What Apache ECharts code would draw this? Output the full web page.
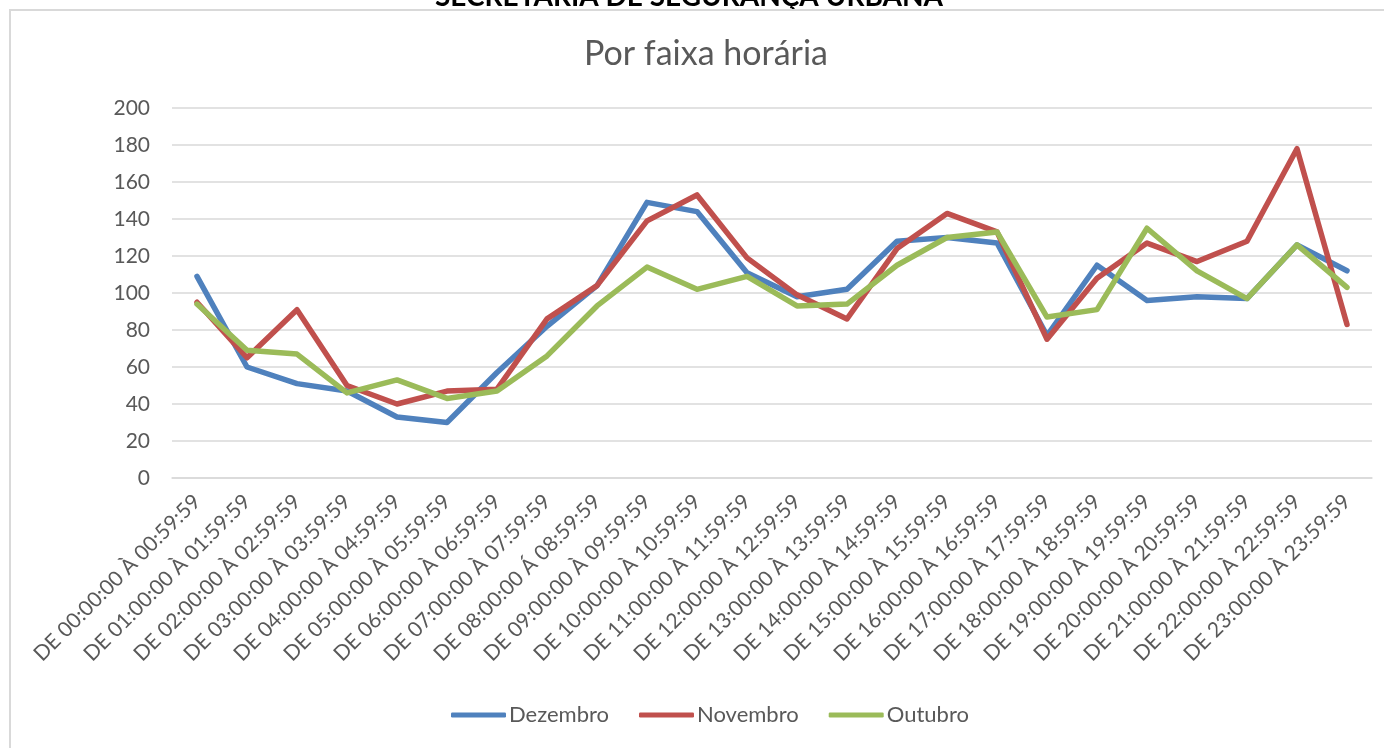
<!DOCTYPE html>
<html>
<head>
<meta charset="utf-8">
<script src="https://cdn.jsdelivr.net/npm/echarts@6/dist/echarts.min.js"></script>
<style>
html,body{margin:0;padding:0;background:#fff;}
#c{width:1384px;height:748px;}
</style>
</head>
<body>
<div id="c"></div>
<script>
const categories = [
  "DE 00:00:00 À 00:59:59","DE 01:00:00 À 01:59:59","DE 02:00:00 À 02:59:59","DE 03:00:00 À 03:59:59",
  "DE 04:00:00 À 04:59:59","DE 05:00:00 À 05:59:59","DE 06:00:00 À 06:59:59","DE 07:00:00 À 07:59:59",
  "DE 08:00:00 Á 08:59:59","DE 09:00:00 À 09:59:59","DE 10:00:00 À 10:59:59","DE 11:00:00 À 11:59:59",
  "DE 12:00:00 À 12:59:59","DE 13:00:00 À 13:59:59","DE 14:00:00 À 14:59:59","DE 15:00:00 À 15:59:59",
  "DE 16:00:00 À 16:59:59","DE 17:00:00 À 17:59:59","DE 18:00:00 À 18:59:59","DE 19:00:00 À 19:59:59",
  "DE 20:00:00 À 20:59:59","DE 21:00:00 À 21:59:59","DE 22:00:00 À 22:59:59","DE 23:00:00 À 23:59:59"
];
const dezembro = [109,60,51,47,33,30,57,82,104,149,144,111,98,102,128,130,127,77,115,96,98,97,126,112];
const novembro = [95,65,91,50,40,47,48,86,104,139,153,119,99,86,124,143,133,75,108,127,117,128,178,83];
const outubro  = [94,69,67,46,53,43,47,66,93,114,102,109,93,94,115,130,133,87,91,135,112,97,126,103];
const seriesNames = ["Dezembro","Novembro","Outubro"];
const colors = ["#4f81bd","#c0504d","#9bbb59"];

const FONT = "Lato";
const chart = echarts.init(document.getElementById('c'), null, {renderer:'canvas'});
const mk = (name, data, color) => ({
  name, type:'line', data, symbol:'none', smooth:false,
  lineStyle:{width:5.5, color, cap:'round', join:'round'},
  itemStyle:{color},
  emphasis:{disabled:true}
});
chart.setOption({
  animation:false,
  backgroundColor:'#fff',
  textStyle:{fontFamily:FONT},
  title:{
    text:'Por faixa horária', left:584, top:37, padding:0,
    textStyle:{fontFamily:FONT, fontSize:34, fontWeight:'normal', color:'#595959'}
  },
  graphic:[
    {type:'rect', shape:{x:10,y:10,width:1400,height:760}, style:{fill:'none', stroke:'#d9d9d9', lineWidth:2}, silent:true, z:10},
    {type:'text', x:689, y:11, style:{text:'SECRETARIA DE SEGURANÇA URBANA', font:'bold 28px '+FONT, fill:'#000', align:'center', verticalAlign:'bottom'}, silent:true, z:-2}
  ],
  legend:{
    data:seriesNames, bottom:17, left:446,
    itemWidth:55, itemHeight:5, itemGap:30,
    icon:'roundRect',
    textStyle:{fontFamily:FONT, fontSize:22, color:'#595959', padding:[0,0,0,-2]}
  },
  grid:{left:172, right:12, top:108, bottom:270, containLabel:false},
  xAxis:{
    type:'category', data:categories, boundaryGap:true,
    axisLine:{show:true, lineStyle:{color:'#d9d9d9', width:1.5}},
    axisTick:{show:false},
    axisLabel:{rotate:45, interval:0, margin:20, fontFamily:FONT, fontSize:21, color:'#595959'}
  },
  yAxis:{
    type:'value', min:0, max:200, interval:20,
    axisLine:{show:false}, axisTick:{show:false},
    splitLine:{lineStyle:{color:'#d9d9d9', width:1.5}},
    axisLabel:{margin:22, fontFamily:FONT, fontSize:21, color:'#595959'}
  },
  series:[
    mk(seriesNames[0], dezembro, colors[0]),
    mk(seriesNames[1], novembro, colors[1]),
    mk(seriesNames[2], outubro, colors[2])
  ]
});
</script>
</body>
</html>
